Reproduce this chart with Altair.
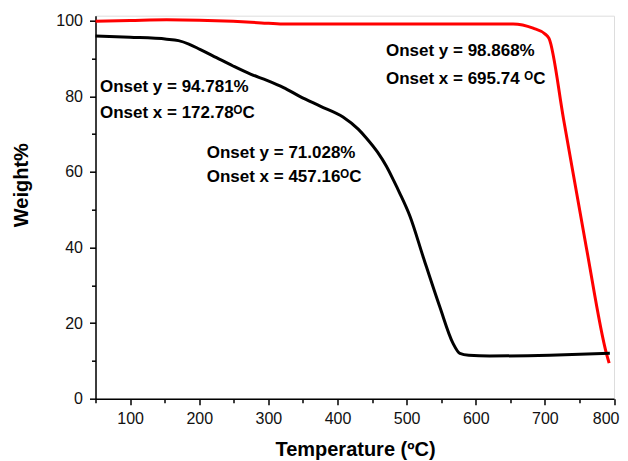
import altair as alt
import pandas as pd

# Red curve (temperature, weight %)
red_t = [50, 100, 153, 200, 249, 290, 321, 375, 500, 600, 654, 683, 700, 706, 727, 760, 789, 793]
red_w = [99.8, 100.0, 100.2, 100.1, 99.8, 99.4, 99.1, 99.1, 99.1, 99.1, 99.1, 98.0, 96.5, 95.3, 74.0, 40.0, 12.0, 9.4]

# Black curve
blk_t = [50, 100, 153, 170, 185, 201, 225, 249, 275, 298, 322, 346, 375, 408, 430, 442, 458, 471, 481,
         490, 505, 524, 548, 567, 577, 590, 620, 707, 794]
blk_w = [95.9, 95.6, 95.1, 94.7, 93.8, 92.4, 90.2, 88.0, 85.8, 84.2, 82.3, 79.9, 77.4, 74.5, 71.3, 68.9,
         65.2, 61.4, 57.8, 54.4, 48.2, 37.5, 24.3, 14.7, 12.0, 11.5, 11.3, 11.5, 12.0]

# Annotations
ann_t = [56.5, 56.5, 210.9, 210.9, 470.2, 470.2]
ann_w = [82.4, 75.5, 64.9, 58.6, 91.9, 84.5]
ann_text = ["Onset y = 94.781%", "Onset x = 172.78\u1d3cC",
            "Onset y = 71.028%", "Onset x = 457.16\u1d3cC",
            "Onset y = 98.868%", "Onset x = 695.74 \u1d3cC"]

x_major = list(range(100, 801, 100))
x_minor = list(range(50, 801, 100))
y_major = list(range(0, 101, 20))
y_minor = list(range(10, 100, 20))

df = pd.concat([
    pd.DataFrame({"t": red_t, "w": red_w, "s": "red"}),
    pd.DataFrame({"t": blk_t, "w": blk_w, "s": "black"}),
])
ann = pd.DataFrame({"t": ann_t, "w": ann_w, "label": ann_text})

FONT = "Liberation Sans"

xscale = alt.Scale(domain=[50, 800], nice=False, zero=False)
yscale = alt.Scale(domain=[0, 101.3], nice=False)

common = dict(grid=False, tickColor="black", tickWidth=1.5, domainColor="black", domainWidth=1.5,
              labelFont=FONT, labelFontSize=16, labelColor="#111",
              titleFont=FONT, titleFontSize=20, titleFontWeight="bold", titleColor="black",
              labelOverlap=False)

xaxis = alt.Axis(
    values=x_major, title="Temperature (\u00baC)", orient="bottom", tickSize=6, labelPadding=6,
    labelFlush=True, labelFlushOffset=5,
    titleBaseline="alphabetic", titleY=57, titleX=259.5, titleAnchor="middle", **common,
)
yaxis = alt.Axis(
    values=y_major, title="Weight%", orient="left", tickSize=6, labelPadding=7, labelFlush=False,
    titleAngle=-90, titleBaseline="middle", titleAlign="center", titleX=-74, titleY=169, **common,
)
xminor = alt.Axis(values=x_minor, title=None, orient="bottom", labels=False, domain=False,
                  grid=False, tickSize=4, tickColor="black", tickWidth=1.5)
yminor = alt.Axis(values=y_minor, title=None, orient="left", labels=False, domain=False,
                  grid=False, tickSize=4, tickColor="black", tickWidth=1.5)

lines = alt.Chart(df).mark_line(strokeWidth=3, interpolate="monotone").encode(
    x=alt.X("t:Q", scale=xscale, axis=xaxis),
    y=alt.Y("w:Q", scale=yscale, axis=yaxis),
    color=alt.Color("s:N", scale=alt.Scale(domain=["red", "black"], range=["#ff0000", "#000000"]), legend=None),
    detail="s:N",
)

minor = alt.Chart(df).mark_point(opacity=0).encode(
    x=alt.X("t:Q", scale=xscale, axis=xminor),
    y=alt.Y("w:Q", scale=yscale, axis=yminor),
)

texts = alt.Chart(ann).mark_text(
    align="left", baseline="middle", fontSize=17, fontWeight="bold", font=FONT, color="black"
).encode(
    x=alt.X("t:Q", scale=xscale, axis=None),
    y=alt.Y("w:Q", scale=yscale, axis=None),
    text="label:N",
)

chart = alt.layer(lines, minor, texts).resolve_axis(x="independent", y="independent").properties(
    width=518.5, height=383,
    autosize=alt.AutoSizeParams(type="none"),
    padding={"left": 87.5, "top": 7.7, "right": 6, "bottom": 61},
).configure_view(stroke="black", strokeWidth=1.5).configure(background="white")

chart.save("out.html", embed_options={"renderer": "svg", "actions": False})
